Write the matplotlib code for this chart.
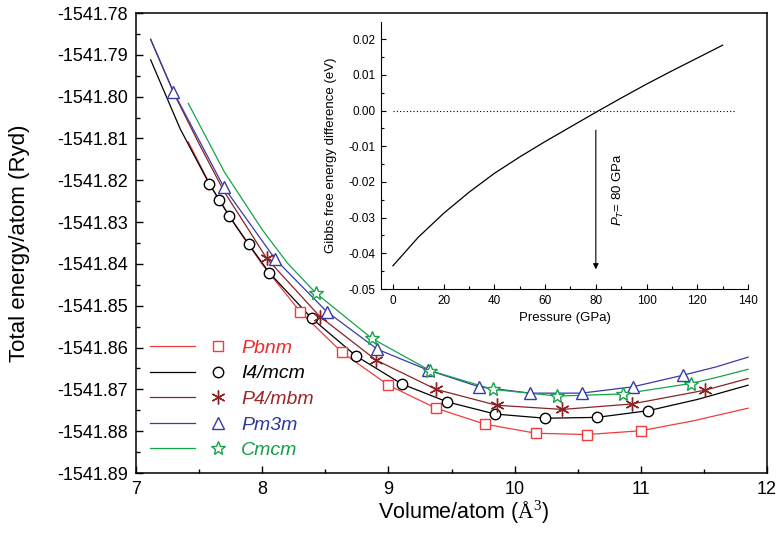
import matplotlib.pyplot as plt
from matplotlib.lines import Line2D
from matplotlib.legend_handler import HandlerBase
from matplotlib.ticker import MultipleLocator, FuncFormatter, FormatStrFormatter

plt.rcParams['font.family'] = ['Liberation Sans', 'DejaVu Sans']
plt.rcParams['mathtext.fontset'] = 'custom'
plt.rcParams['mathtext.rm'] = 'Liberation Serif'
plt.rcParams['mathtext.it'] = 'Liberation Sans:italic'

# calculated points (symbols), volume in A^3, energy in Ryd
pbnm_v = [8.30, 8.63, 9.00, 9.377, 9.763, 10.17, 10.574, 11.00]
pbnm_e = [-1541.8514, -1541.8611, -1541.8690, -1541.8745, -1541.8783,
          -1541.8805, -1541.8808, -1541.8799]
i4_v = [7.581, 7.660, 7.737, 7.893, 8.056, 8.392, 8.743, 9.105, 9.467,
        9.845, 10.241, 10.651, 11.059]
i4_e = [-1541.8209, -1541.8247, -1541.8285, -1541.8353, -1541.8421,
        -1541.8530, -1541.8620, -1541.8687, -1541.8730, -1541.8759,
        -1541.8769, -1541.8767, -1541.8751]
p4_v = [8.036, 8.458, 8.902, 9.377, 9.858, 10.378, 10.928, 11.509]
p4_e = [-1541.8387, -1541.8526, -1541.8630, -1541.8700, -1541.8738,
        -1541.8748, -1541.8735, -1541.8702]
pm3m_v = [7.296, 7.697, 8.104, 8.511, 8.912, 9.314, 9.720, 10.124, 10.532,
          10.936, 11.337]
pm3m_e = [-1541.7988, -1541.8217, -1541.8389, -1541.8514, -1541.8604,
          -1541.8654, -1541.8694, -1541.8709, -1541.8709, -1541.8694,
          -1541.8666]
cmcm_v = [8.426, 8.868, 9.330, 9.826, 10.338, 10.856, 11.395]
cmcm_e = [-1541.8470, -1541.8578, -1541.8655, -1541.8700, -1541.8716,
          -1541.8711, -1541.8686]

# fitted EOS curves
pbnm_fit_v = [7.414, 7.6, 7.8, 8.0, 8.30, 8.63, 9.00, 9.377, 9.763, 10.17,
              10.574, 11.00, 11.42, 11.85]
pbnm_fit_e = [-1541.8108, -1541.8218, -1541.8314, -1541.8401, -1541.8514,
              -1541.8611, -1541.8690, -1541.8745, -1541.8783, -1541.8805,
              -1541.8808, -1541.8799, -1541.8775, -1541.8745]
i4_fit_v = [7.116, 7.35, 7.581, 7.660, 7.737, 7.893, 8.056, 8.392, 8.743,
            9.105, 9.467, 9.845, 10.241, 10.651, 11.059, 11.45, 11.85]
i4_fit_e = [-1541.7912, -1541.8077, -1541.8209, -1541.8247, -1541.8285,
            -1541.8353, -1541.8421, -1541.8530, -1541.8620, -1541.8687,
            -1541.8730, -1541.8759, -1541.8769, -1541.8767, -1541.8751,
            -1541.8724, -1541.8690]
p4_fit_v = [7.116, 7.3, 7.5, 7.7, 7.9, 8.036, 8.458, 8.902, 9.377, 9.858,
            10.378, 10.928, 11.509, 11.85]
p4_fit_e = [-1541.7863, -1541.7992, -1541.8113, -1541.8228, -1541.8322,
            -1541.8387, -1541.8526, -1541.8630, -1541.8700, -1541.8738,
            -1541.8748, -1541.8735, -1541.8702, -1541.8674]
pm3m_fit_v = [7.116, 7.296, 7.697, 8.104, 8.511, 8.912, 9.314, 9.720, 10.124,
              10.532, 10.936, 11.337, 11.6, 11.85]
pm3m_fit_e = [-1541.7863, -1541.7988, -1541.8217, -1541.8389, -1541.8514,
              -1541.8604, -1541.8654, -1541.8694, -1541.8709, -1541.8709,
              -1541.8694, -1541.8666, -1541.8646, -1541.8623]
cmcm_fit_v = [7.414, 7.7, 8.0, 8.2, 8.426, 8.868, 9.330, 9.826, 10.338,
              10.856, 11.395, 11.62, 11.85]
cmcm_fit_e = [-1541.8016, -1541.8180, -1541.8318, -1541.8398, -1541.8470,
              -1541.8578, -1541.8655, -1541.8700, -1541.8716, -1541.8711,
              -1541.8686, -1541.8670, -1541.8652]

# inset: Gibbs free energy difference vs pressure
pressure = [0, 10, 20, 30, 40, 50, 60, 70, 80, 90, 100, 110, 120, 130]
dgibbs = [-0.0435, -0.0355, -0.0288, -0.0229, -0.0176, -0.0130, -0.0087,
          -0.0046, -0.0005, 0.0035, 0.0074, 0.0111, 0.0147, 0.0183]
p_transition = 80
arrow_from = -0.0055
arrow_to = -0.0445


class LineThenMarker(HandlerBase):
    # Origin-style legend entry: short line, then the symbol
    def create_artists(self, legend, handle, xdescent, ydescent, width,
                       height, fontsize, trans):
        line, mark = handle
        y = height / 2 - ydescent
        seg = Line2D([-xdescent, -xdescent + 0.58 * width], [y, y],
                     color=line.get_color(), lw=line.get_linewidth())
        sym = Line2D([-xdescent + 0.87 * width], [y], ls='none',
                     marker=mark.get_marker(), ms=mark.get_markersize(),
                     mfc=mark.get_markerfacecolor(),
                     mec=mark.get_markeredgecolor(),
                     mew=mark.get_markeredgewidth())
        seg.set_transform(trans)
        sym.set_transform(trans)
        return [seg, sym]


def inset_fmt(val, pos):
    s = '%.2f' % val
    return '0.00' if s == '-0.00' else s


fig = plt.figure(figsize=(7.77, 5.45), dpi=100)
ax = fig.add_axes([136 / 777, 1 - 473 / 545, 631 / 777, 460 / 545])

series = [
    ('Pbnm', pbnm_fit_v, pbnm_fit_e, pbnm_v, pbnm_e, '#f03c3c', '#ee2a2a', 's', 7),
    ('I4/mcm', i4_fit_v, i4_fit_e, i4_v, i4_e, 'black', 'black', 'o', 7.5),
    ('P4/mbm', p4_fit_v, p4_fit_e, p4_v, p4_e, '#8b2323', '#9a2828', (6, 2, 0), 10),
    ('Pm3m', pm3m_fit_v, pm3m_fit_e, pm3m_v, pm3m_e, '#3a3aa8', '#2e3a9c', '^', 8.5),
    ('Cmcm', cmcm_fit_v, cmcm_fit_e, cmcm_v, cmcm_e, '#13a54a', '#12a046', '*', 10),
]

handles, labels, text_colors = [], [], []
for name, fv, fe, v, e, col, tcol, mk, ms in series:
    ln, = ax.plot(fv, fe, color=col, lw=0.9, zorder=2)
    pt, = ax.plot(v, e, ls='none', marker=mk, ms=ms, mfc='white', mec=col,
                  mew=1.0, zorder=3)
    handles.append((ln, pt))
    labels.append(name)
    text_colors.append(tcol)

ax.set_xlim(7, 12)
ax.set_ylim(-1541.89, -1541.78)
ax.xaxis.set_major_locator(MultipleLocator(1))
ax.xaxis.set_minor_locator(MultipleLocator(0.5))
ax.yaxis.set_major_locator(MultipleLocator(0.01))
ax.yaxis.set_minor_locator(MultipleLocator(0.005))
ax.yaxis.set_major_formatter(FormatStrFormatter('%.2f'))
ax.tick_params(which='both', direction='in', top=False, right=False,
               labelsize=13)
ax.tick_params(which='major', length=5, width=1.0, pad=6)
ax.tick_params(which='minor', length=3, width=1.0)
for s in ax.spines.values():
    s.set_linewidth(1.1)
ax.set_xlabel(r'Volume/atom ($\mathrm{\AA}^3$)', fontsize=15.5)
ax.xaxis.set_label_coords(0.52, -0.085, transform=ax.transAxes)
ax.xaxis.label.set_va('center')
ax.set_ylabel('Total energy/atom (Ryd)', fontsize=16)
ax.yaxis.set_label_coords(-0.184, 0.5, transform=ax.transAxes)
ax.yaxis.label.set_va('center')

leg = ax.legend(handles, labels, handler_map={tuple: LineThenMarker()},
                loc='lower left', bbox_to_anchor=(0.022, 0.03),
                frameon=False, borderpad=0, borderaxespad=0,
                handlelength=4.0, handletextpad=0.7, labelspacing=0.41,
                prop={'size': 14, 'style': 'italic'})
for txt, c in zip(leg.get_texts(), text_colors):
    txt.set_color(c)

# inset
axi = fig.add_axes([381 / 777, 1 - 289 / 545, 367 / 777, 267 / 545])
axi.patch.set_alpha(0)
axi.plot(pressure, dgibbs, color='black', lw=0.9)
axi.plot([0, 135], [0, 0], color='black', lw=0.8, ls=(0, (1, 2)))
axi.annotate('', xy=(p_transition, arrow_to), xytext=(p_transition, arrow_from),
             arrowprops=dict(arrowstyle='-|>', color='black', lw=0.8,
                             mutation_scale=8, shrinkA=0, shrinkB=0))
axi.text(p_transition + 9, -0.022, r'$P_T$= 80 GPa', rotation=90,
         ha='center', va='center', fontsize=9.5)
axi.set_xlim(-4.7, 140)
axi.set_ylim(-0.05, 0.0248)
axi.spines['top'].set_visible(False)
axi.spines['right'].set_visible(False)
axi.xaxis.set_major_locator(MultipleLocator(20))
axi.xaxis.set_minor_locator(MultipleLocator(10))
axi.yaxis.set_major_locator(MultipleLocator(0.01))
axi.yaxis.set_minor_locator(MultipleLocator(0.005))
axi.yaxis.set_major_formatter(FuncFormatter(inset_fmt))
axi.tick_params(which='both', direction='in', labelsize=8.5, width=0.8)
axi.tick_params(which='major', length=3.5, pad=4)
axi.tick_params(which='minor', length=2)
axi.set_xlabel('Pressure (GPa)', fontsize=9.5, labelpad=4)
axi.set_ylabel('Gibbs free energy difference (eV)', fontsize=9.5, labelpad=8)

fig.savefig('out.png', dpi=100)
